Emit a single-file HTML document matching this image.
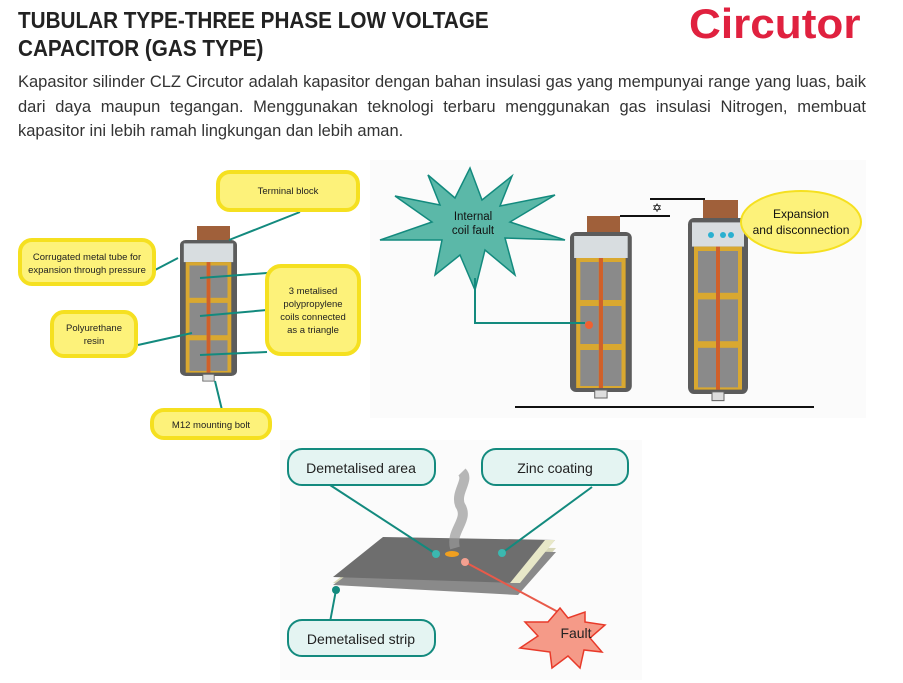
<!DOCTYPE html>
<html><head><meta charset="utf-8"><style>
body{margin:0;width:903px;height:683px;background:#fff;overflow:hidden;font-family:"Liberation Sans",sans-serif;position:relative}
.t{position:absolute;left:18px;top:6px;font-size:23px;font-weight:bold;color:#222;line-height:28px;transform:scaleX(0.9);transform-origin:0 0;white-space:nowrap}
.p{position:absolute;left:18px;top:70px;width:848px;font-size:16.5px;line-height:24.5px;color:#333;text-align:justify}
.logo{position:absolute;left:689px;top:0px;font-size:42px;font-weight:bold;color:#e0213f;font-family:"Liberation Sans",sans-serif;transform:scaleX(1.05);transform-origin:0 0}
svg{position:absolute;left:0;top:0}
</style></head><body>
<div class="t">TUBULAR TYPE-THREE PHASE LOW VOLTAGE<br>CAPACITOR (GAS TYPE)</div>
<div class="logo">Circutor</div>
<div class="p">Kapasitor silinder CLZ Circutor adalah kapasitor dengan bahan insulasi gas yang mempunyai range yang luas, baik dari daya maupun tegangan. Menggunakan teknologi terbaru menggunakan gas insulasi Nitrogen, membuat kapasitor ini lebih ramah lingkungan dan lebih aman.</div>
<svg width="903" height="683" font-family="Liberation Sans,sans-serif">
<defs>
<g id="cap">
<rect x="0" y="0" width="60" height="160" rx="6" fill="#5c5c5c"/>
<rect x="4" y="4" width="52" height="22" fill="#d8dde0"/>
<rect x="6" y="26" width="48" height="130" fill="#d9a830"/>
<rect x="10" y="30" width="18" height="38" fill="#8a8a8a"/><rect x="32" y="30" width="18" height="38" fill="#8a8a8a"/>
<rect x="10" y="74" width="18" height="38" fill="#8a8a8a"/><rect x="32" y="74" width="18" height="38" fill="#8a8a8a"/>
<rect x="10" y="118" width="18" height="36" fill="#8a8a8a"/><rect x="32" y="118" width="18" height="36" fill="#8a8a8a"/>
<rect x="28" y="26" width="4" height="130" fill="#d0602a"/>
<rect x="24" y="158" width="12" height="8" fill="#ddd" stroke="#666"/>
</g>
</defs>
<rect x="197" y="226" width="33" height="16" fill="#a0603a"/>
<use href="#cap" transform="translate(180,240) scale(0.95 0.85)"/>
<g stroke="#138a7e" stroke-width="2" fill="none">
<line x1="300" y1="212" x2="229" y2="240"/><line x1="155" y1="270" x2="178" y2="258"/>
<line x1="138" y1="345" x2="192" y2="333"/><line x1="200" y1="278" x2="267" y2="273"/>
<line x1="200" y1="316" x2="267" y2="310"/><line x1="200" y1="355" x2="267" y2="352"/>
<line x1="215" y1="381" x2="222" y2="410"/>
</g>
<g fill="#fdf27a" stroke="#f5e020" stroke-width="4">
<rect x="218" y="172" width="140" height="38" rx="12"/>
<rect x="20" y="240" width="134" height="44" rx="12"/>
<rect x="52" y="312" width="84" height="44" rx="12"/>
<rect x="267" y="266" width="92" height="88" rx="14"/>
<rect x="152" y="410" width="118" height="28" rx="12"/>
</g>
<g font-size="9.5" fill="#222" text-anchor="middle">
<text x="288" y="194">Terminal block</text>
<text x="87" y="260">Corrugated metal tube for</text><text x="87" y="273">expansion through pressure</text>
<text x="94" y="331">Polyurethane</text><text x="94" y="344">resin</text>
<text x="313" y="294">3 metalised</text><text x="313" y="307">polypropylene</text><text x="313" y="320">coils connected</text><text x="313" y="333">as a triangle</text>
<text x="211" y="428">M12 mounting bolt</text>
</g>
<rect x="370" y="160" width="496" height="258" fill="#fbfbfb"/>
<rect x="587" y="216" width="33" height="19" fill="#a0603a"/>
<rect x="703" y="200" width="35" height="19" fill="#a0603a"/>
<use href="#cap" transform="translate(570,232) scale(1.03 1.0)"/>
<use href="#cap" transform="translate(688,218) scale(1.0 1.1)"/>
<g fill="#2ab0d0"><circle cx="711" cy="235" r="3"/><circle cx="723" cy="235" r="3"/><circle cx="731" cy="235" r="3"/></g>
<g stroke="#111" stroke-width="2" fill="none">
<line x1="620" y1="216" x2="670" y2="216"/><line x1="650" y1="199" x2="705" y2="199"/>
<line x1="515" y1="407" x2="814" y2="407"/>
</g>
<text x="652" y="212" font-size="12">✡</text>
<polygon points="470,168 482,200 512,176 500,206 555,195 510,222 565,240 505,238 515,275 485,250 475,290 460,255 435,275 442,240 380,240 432,222 395,196 440,205 428,175 455,198" fill="#5bb8a8" stroke="#138a7e" stroke-width="1.5"/>
<text x="473" y="220" font-size="11.5" text-anchor="middle" fill="#111">Internal</text>
<text x="473" y="234" font-size="11.5" text-anchor="middle" fill="#111">coil fault</text>
<polyline points="475,278 475,323 585,323" fill="none" stroke="#138a7e" stroke-width="2"/>
<circle cx="589" cy="325" r="4" fill="#f06030"/>
<ellipse cx="801" cy="222" rx="60" ry="31" fill="#fdf27a" stroke="#f5e020" stroke-width="2"/>
<text x="801" y="218" font-size="12" text-anchor="middle" fill="#111">Expansion</text>
<text x="801" y="234" font-size="12" text-anchor="middle" fill="#111">and disconnection</text>
<rect x="280" y="440" width="362" height="240" fill="#fbfbfb"/>
<polygon points="333,583 383,545 556,548 518,591" fill="#d8d8b8"/>
<polygon points="333,585 383,549 556,552 518,595" fill="#8a8a8a"/>
<polygon points="333,577 383,537 555,540 517,583" fill="#6e6e6e"/>
<polygon points="545,540 555,540 520,583 510,583" fill="#e8e8c8"/>
<ellipse cx="452" cy="554" rx="7" ry="3" fill="#f0a020"/>
<path d="M455,548 C450,530 470,520 460,505 C455,492 470,480 462,472" stroke="#999" stroke-width="10" fill="none" opacity="0.7"/>
<g stroke-width="2" fill="none">
<line x1="330" y1="485" x2="436" y2="554" stroke="#138a7e"/>
<line x1="592" y1="487" x2="502" y2="553" stroke="#138a7e"/>
<line x1="336" y1="590" x2="330" y2="622" stroke="#138a7e"/>
<line x1="465" y1="562" x2="560" y2="613" stroke="#e85a4a"/>
</g>
<circle cx="436" cy="554" r="4" fill="#3bb8b0"/><circle cx="502" cy="553" r="4" fill="#3bb8b0"/>
<circle cx="336" cy="590" r="4" fill="#138a7e"/><circle cx="465" cy="562" r="4" fill="#f4a090"/>
<g fill="#e4f4f2" stroke="#138a7e" stroke-width="2">
<rect x="288" y="449" width="147" height="36" rx="14"/>
<rect x="482" y="449" width="146" height="36" rx="14"/>
<rect x="288" y="620" width="147" height="36" rx="14"/>
</g>
<g font-size="14" fill="#222" text-anchor="middle">
<text x="361" y="473">Demetalised area</text>
<text x="555" y="473">Zinc coating</text>
<text x="361" y="644">Demetalised strip</text>
</g>
<polygon points="560,608 568,618 585,612 585,622 605,625 590,638 602,652 584,650 580,668 568,656 552,668 550,652 520,648 538,636 525,622 548,622" fill="#f59a88" stroke="#e83a2a" stroke-width="1.5"/>
<text x="576" y="638" font-size="14" text-anchor="middle" fill="#222">Fault</text>
</svg>
</body></html>
